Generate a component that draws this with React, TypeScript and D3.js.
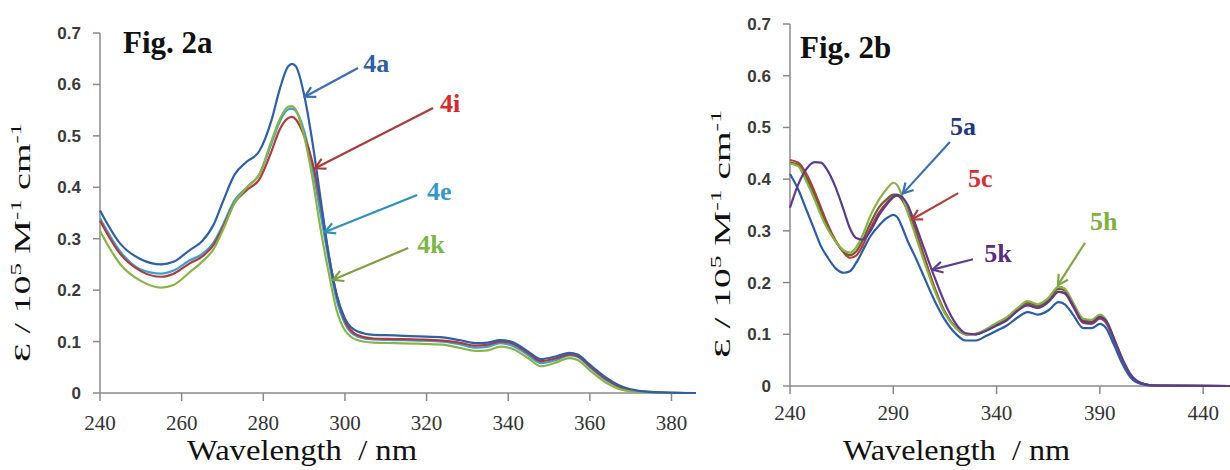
import React from "react";
import * as d3 from "d3";

// ---------- Fig. 2a data ----------
const wlA = [240,245,250,255,258,262,265,268,270,273,276,279,282,284,286,287,288,290,292,294,296,298,300,303,307,312,318,324,328,332,335,338,341,345,348,352,355,357,360,364,368,372,378,386];
const s4a = [.355,.29,.26,.25,.255,.278,.295,.33,.37,.425,.45,.47,.53,.59,.634,.64,.635,.58,.49,.38,.27,.19,.145,.12,.113,.112,.11,.108,.103,.097,.098,.103,.099,.08,.066,.072,.078,.075,.055,.03,.012,.004,.001,0];
const s4i = [.335,.27,.237,.226,.232,.252,.265,.29,.32,.37,.395,.415,.47,.512,.534,.537,.532,.50,.45,.37,.27,.19,.14,.113,.106,.105,.104,.102,.098,.092,.094,.1,.096,.077,.062,.068,.075,.072,.052,.027,.01,.003,.001,0];
const s4e = [.34,.275,.24,.232,.238,.258,.27,.295,.325,.375,.40,.425,.485,.527,.551,.553,.548,.51,.44,.35,.26,.18,.135,.11,.104,.103,.102,.1,.095,.088,.09,.097,.092,.073,.058,.065,.073,.07,.05,.025,.009,.003,.001,0];
const s4k = [.315,.25,.218,.205,.21,.235,.255,.282,.315,.37,.40,.425,.49,.532,.556,.558,.55,.5,.42,.32,.235,.16,.122,.103,.098,.097,.096,.094,.088,.082,.083,.09,.086,.067,.052,.06,.068,.064,.044,.02,.006,.002,.001,0];

// ---------- Fig. 2b data ----------
const wlB = [240,244,248,252,255,258,262,266,269,272,275,279,283,287,290,292,294,297,300,305,310,315,320,325,330,335,340,345,350,355,360,365,370,373,377,382,386,390,393,397,401,405,410,416,453];
const s5a = [.41,.38,.34,.30,.27,.25,.228,.219,.222,.238,.26,.29,.31,.325,.331,.326,.31,.28,.255,.21,.165,.128,.102,.088,.088,.097,.107,.117,.132,.143,.138,.146,.162,.158,.138,.112,.112,.12,.112,.078,.042,.016,.004,.001,0];
const s5h = [.43,.425,.395,.36,.33,.305,.28,.262,.258,.268,.29,.33,.36,.382,.393,.388,.37,.335,.3,.24,.185,.14,.113,.1,.101,.11,.122,.133,.15,.164,.158,.17,.192,.188,.162,.13,.128,.138,.128,.09,.05,.02,.005,.001,0];
const s5c = [.437,.432,.41,.375,.345,.315,.282,.258,.248,.252,.27,.305,.335,.355,.366,.368,.362,.34,.31,.25,.19,.143,.114,.1,.1,.108,.118,.128,.146,.157,.152,.163,.182,.179,.154,.122,.12,.13,.122,.086,.048,.019,.005,.001,0];
const s5x = [.432,.428,.402,.368,.338,.31,.28,.26,.253,.26,.28,.315,.345,.362,.37,.37,.362,.338,.305,.245,.188,.142,.114,.1,.101,.109,.12,.131,.148,.161,.155,.167,.188,.185,.158,.127,.125,.135,.126,.089,.05,.02,.005,.001,0];
const s5k = [.345,.39,.42,.433,.432,.418,.385,.34,.305,.286,.283,.3,.33,.352,.365,.369,.366,.35,.32,.265,.21,.16,.122,.102,.1,.107,.117,.127,.145,.156,.151,.162,.182,.18,.156,.124,.122,.133,.126,.09,.052,.022,.006,.001,0];

const yTicks = [0, 0.1, 0.2, 0.3, 0.4, 0.5, 0.6, 0.7];
const xTicksA = [240, 260, 280, 300, 320, 340, 360, 380];
const xTicksB = [240, 290, 340, 390, 440];

// annotations in data coordinates: [label, textX, textY, fromX, fromY, toX, toY]
const notesA: [string, number, number, number, number, number, number][] = [
  ["4a", 304.5, 0.624, 303.2, 0.632, 290.2, 0.576],
  ["4i", 323.3, 0.546, 321.6, 0.554, 292.7, 0.437],
  ["4e", 320.1, 0.375, 317.7, 0.385, 295.1, 0.313],
  ["4k", 317.7, 0.272, 315.5, 0.282, 297.1, 0.22],
];
const notesB: [string, number, number, number, number, number, number][] = [
  ["5a", 317.4, 0.485, 317.4, 0.472, 294.6, 0.372],
  ["5c", 326.2, 0.385, 321.4, 0.373, 299.0, 0.322],
  ["5k", 334.0, 0.24, 328.6, 0.245, 309.0, 0.225],
  ["5h", 385.2, 0.302, 382.8, 0.277, 369.7, 0.195],
];

const colA: Record<string, string> = { "4a": "#2f5fa5", "4i": "#b03a3a", "4e": "#3aa0d0", "4k": "#8ab44a" };
const txtA: Record<string, string> = { "4a": "#2e5fa0", "4i": "#d42a2a", "4e": "#3399cc", "4k": "#7ab648" };
const arrA: Record<string, string> = { "4a": "#3b6eb4", "4i": "#a83c3c", "4e": "#2f8fb8", "4k": "#7f9f45" };
const txtB: Record<string, string> = { "5a": "#1f3a78", "5c": "#d43030", "5k": "#5a2d82", "5h": "#80b040" };
const arrB: Record<string, string> = { "5a": "#3a70b8", "5c": "#b04040", "5k": "#5e3f8f", "5h": "#7fa845" };

const serif = "'Liberation Serif', 'Times New Roman', serif";
const sans = "'Liberation Sans', Arial, sans-serif";
const axisCol = "#8a8a8a";

type Panel = {
  x0: number; x1: number; y0: number; y1: number; dom: [number, number];
  xTicks: number[]; tickY: number; labelRight: number;
};

function Axes({ p, x, y }: { p: Panel; x: d3.ScaleLinear<number, number>; y: d3.ScaleLinear<number, number> }) {
  return (
    <g>
      <line x1={p.x0} x2={p.x0} y1={y(0)} y2={y(0.7)} stroke={axisCol} strokeWidth={1.5} />
      <line x1={p.x0} x2={p.x1} y1={y(0)} y2={y(0)} stroke={axisCol} strokeWidth={1.5} />
      {yTicks.map((t) => (
        <g key={t}>
          <line x1={p.x0 - 7} x2={p.x0} y1={y(t)} y2={y(t)} stroke={axisCol} strokeWidth={1.5} />
          <text x={p.labelRight} y={y(t) + 6} textAnchor="end" fontFamily={sans} fontWeight="bold" fontSize={17} fill="#3a3a3a">
            {t === 0 ? "0" : t.toFixed(1)}
          </text>
        </g>
      ))}
      {p.xTicks.map((t) => (
        <g key={t}>
          <line x1={x(t)} x2={x(t)} y1={y(0)} y2={y(0) + 8} stroke={axisCol} strokeWidth={1.5} />
          <text x={x(t)} y={p.tickY} textAnchor="middle" fontFamily={serif} fontSize={21} fill="#333">{t}</text>
        </g>
      ))}
    </g>
  );
}

function YTitle({ bx, by, len }: { bx: number; by: number; len: number }) {
  return (
    <text transform={`translate(${bx},${by}) rotate(-90)`} fontFamily={serif} fontSize={23} fill="#111"
      textLength={len} lengthAdjust="spacingAndGlyphs">
      Ɛ / 10<tspan fontSize={15} dy={-9}>5</tspan><tspan dy={9}> M</tspan><tspan fontSize={15} dy={-9}>-1</tspan><tspan dy={9}> cm</tspan><tspan fontSize={15} dy={-9}>-1</tspan>
    </text>
  );
}

export default function App() {
  const pA: Panel = { x0: 100, x1: 696, y0: 393, y1: 33, dom: [240, 386], xTicks: xTicksA, tickY: 430, labelRight: 81 };
  const pB: Panel = { x0: 790, x1: 1230, y0: 386, y1: 24, dom: [240, 453], xTicks: xTicksB, tickY: 420, labelRight: 771 };
  const xA = d3.scaleLinear().domain(pA.dom).range([pA.x0, pA.x1]);
  const yA = d3.scaleLinear().domain([0, 0.7]).range([pA.y0, pA.y1]);
  const xB = d3.scaleLinear().domain(pB.dom).range([pB.x0, pB.x1]);
  const yB = d3.scaleLinear().domain([0, 0.7]).range([pB.y0, pB.y1]);

  const lineA = d3.line<number>().x((_, i) => xA(wlA[i])).y((d) => yA(d)).curve(d3.curveMonotoneX);
  const lineB = d3.line<number>().x((_, i) => xB(wlB[i])).y((d) => yB(d)).curve(d3.curveMonotoneX);

  const seriesA: [string, number[]][] = [["4e", s4e], ["4i", s4i], ["4k", s4k], ["4a", s4a]];
  const seriesB: [string, number[], string][] = [
    ["5c", s5c, "#b83a3a"], ["5x", s5x, "#6a6030"], ["5h", s5h, "#8cb04a"], ["5a", s5a, "#2b5ca8"], ["5k", s5k, "#5e3a8a"],
  ];

  const markers = { ...arrA, ...arrB };
  const xTitle = "Wavelength\u00a0 / nm";

  return (
    <svg width={1230} height={470} style={{ position: "absolute", left: 0, top: 0, background: "#fff" }}>
      <defs>
        {Object.entries(markers).map(([k, c]) => (
          <marker key={k} id={`m${k}`} viewBox="-12 -7 14 14" refX={0} refY={0} markerWidth={14} markerHeight={14}
            markerUnits="userSpaceOnUse" orient="auto">
            <path d="M-10,-5.5 L0,0 L-10,5.5" fill="none" stroke={c} strokeWidth={2.2} />
          </marker>
        ))}
      </defs>

      {/* Panel A */}
      <Axes p={pA} x={xA} y={yA} />
      {seriesA.map(([k, v]) => (
        <path key={k} d={lineA(v) || ""} fill="none" stroke={colA[k]} strokeWidth={2.2} />
      ))}
      {notesA.map(([k, tx, ty, fx, fy, ax, ay]) => (
        <g key={k}>
          <line x1={xA(fx)} y1={yA(fy)} x2={xA(ax)} y2={yA(ay)} stroke={arrA[k]} strokeWidth={2.2} markerEnd={`url(#m${k})`} />
          <text x={xA(tx)} y={yA(ty)} fontFamily={serif} fontWeight="bold" fontSize={26} fill={txtA[k]}>{k}</text>
        </g>
      ))}
      <text x={123} y={53} fontFamily={serif} fontWeight="bold" fontSize={31} fill="#111">Fig. 2a</text>
      <text x={187} y={460} fontFamily={serif} fontSize={30} fill="#111" textLength={230} lengthAdjust="spacingAndGlyphs">{xTitle}</text>
      <YTitle bx={30} by={362} len={239} />

      {/* Panel B */}
      <Axes p={pB} x={xB} y={yB} />
      {seriesB.map(([k, v, c]) => (
        <path key={k} d={lineB(v) || ""} fill="none" stroke={c} strokeWidth={2.2} />
      ))}
      {notesB.map(([k, tx, ty, fx, fy, ax, ay]) => (
        <g key={k}>
          <line x1={xB(fx)} y1={yB(fy)} x2={xB(ax)} y2={yB(ay)} stroke={arrB[k]} strokeWidth={2.2} markerEnd={`url(#m${k})`} />
          <text x={xB(tx)} y={yB(ty)} fontFamily={serif} fontWeight="bold" fontSize={26} fill={txtB[k]}>{k}</text>
        </g>
      ))}
      <text x={800} y={58} fontFamily={serif} fontWeight="bold" fontSize={31} fill="#111">Fig. 2b</text>
      <text x={843} y={460} fontFamily={serif} fontSize={30} fill="#111" textLength={227} lengthAdjust="spacingAndGlyphs">{xTitle}</text>
      <YTitle bx={730} by={358} len={248} />
    </svg>
  );
}
